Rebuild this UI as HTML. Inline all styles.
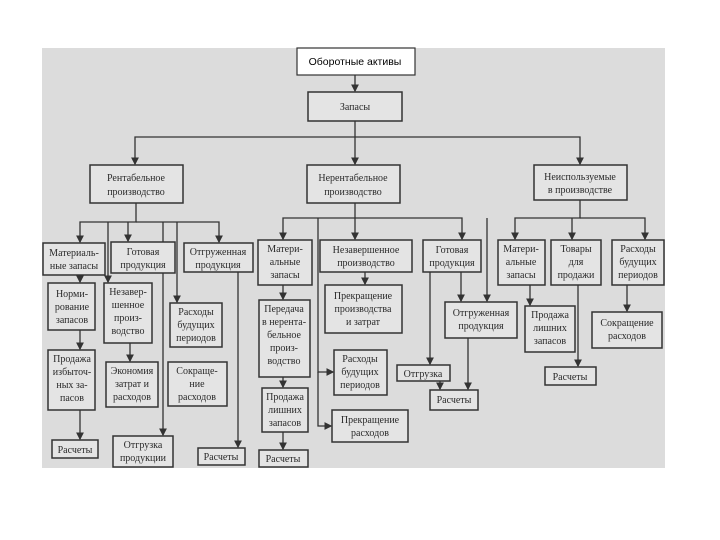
<!DOCTYPE html>
<html><head><meta charset="utf-8"><style>
body{margin:0;background:#fff}
svg{display:block}
text{font-family:"Liberation Serif",serif;font-size:10px;fill:#2a2a2a;text-anchor:middle}
rect.b{fill:#e4e4e4;stroke:#333;stroke-width:1.5}
line,polyline{stroke:#333;stroke-width:1.3;fill:none}
</style></head><body>
<svg width="720" height="540" viewBox="0 0 720 540">
<defs><marker id="a" markerWidth="6" markerHeight="6" refX="5" refY="3" orient="auto"><path d="M0,0L6,3L0,6z" fill="#333"/></marker></defs>
<rect x="42" y="48" width="623" height="420" fill="#dcdcdc"/>
<g marker-end="url(#a)">
<line x1="355" y1="75" x2="355" y2="91"/>
<line x1="355" y1="121" x2="355" y2="164"/>
<polyline points="355,137 135,137 135,164"/>
<polyline points="355,137 580,137 580,164"/>
<polyline points="136,203 136,222 80,222 80,242"/>
<line x1="128" y1="222" x2="128" y2="241"/>
<polyline points="136,222 219,222 219,242"/>
<polyline points="355,203 355,239"/>
<polyline points="355,218 283,218 283,239"/>
<polyline points="355,218 462,218 462,239"/>
<polyline points="580,200 580,218 515,218 515,239"/>
<line x1="572" y1="218" x2="572" y2="239"/>
<polyline points="580,218 645,218 645,239"/>
<line x1="80" y1="275" x2="80" y2="282"/>
<line x1="108" y1="222" x2="108" y2="282"/>
<polyline points="177,222 177,302"/>
<polyline points="163,222 163,435"/>
<line x1="80" y1="330" x2="80" y2="349"/>
<line x1="130" y1="343" x2="130" y2="361"/>
<line x1="80" y1="410" x2="80" y2="439"/>
<line x1="238" y1="272" x2="238" y2="447"/>
<line x1="283" y1="285" x2="283" y2="299"/>
<line x1="283" y1="377" x2="283" y2="387"/>
<line x1="283" y1="432" x2="283" y2="449"/>
<line x1="365" y1="272" x2="365" y2="284"/>
<polyline points="318,218 318,372 333,372"/>
<polyline points="318,372 318,426 331,426"/>
<polyline points="430,272 430,364"/>
<line x1="461" y1="272" x2="461" y2="301"/>
<polyline points="487,218 487,301"/>
<line x1="468" y1="338" x2="468" y2="389"/>
<line x1="440" y1="381" x2="440" y2="389"/>
<line x1="530" y1="285" x2="530" y2="305"/>
<line x1="578" y1="285" x2="578" y2="366"/>
<line x1="627" y1="285" x2="627" y2="311"/>
</g>
<rect x="297" y="48" width="118" height="27" fill="#fff" stroke="#333" stroke-width="1.2"/>
<text x="355" y="65" style="font-family:'Liberation Sans',sans-serif;font-size:10.5px;fill:#000">Оборотные активы</text>
<rect class="b" x="308" y="92" width="94" height="29"/><text x="355" y="110">Запасы</text>
<rect class="b" x="90" y="165" width="93" height="38"/><text x="136" y="181">Рентабельное</text><text x="136" y="195">производство</text>
<rect class="b" x="307" y="165" width="93" height="38"/><text x="353" y="181">Нерентабельное</text><text x="353" y="195">производство</text>
<rect class="b" x="534" y="165" width="93" height="35"/><text x="580" y="180">Неиспользуемые</text><text x="580" y="193">в производстве</text>
<rect class="b" x="43" y="243" width="62" height="32"/><text x="74" y="256">Материаль-</text><text x="74" y="269">ные запасы</text>
<rect class="b" x="111" y="242" width="64" height="31"/><text x="143" y="255">Готовая</text><text x="143" y="268">продукция</text>
<rect class="b" x="184" y="243" width="69" height="29"/><text x="218" y="255">Отгруженная</text><text x="218" y="268">продукция</text>
<rect class="b" x="258" y="240" width="54" height="45"/><text x="285" y="252">Матери-</text><text x="285" y="265">альные</text><text x="285" y="278">запасы</text>
<rect class="b" x="320" y="240" width="92" height="32"/><text x="366" y="253">Незавершенное</text><text x="366" y="266">производство</text>
<rect class="b" x="423" y="240" width="58" height="32"/><text x="452" y="253">Готовая</text><text x="452" y="266">продукция</text>
<rect class="b" x="498" y="240" width="47" height="45"/><text x="521" y="252">Матери-</text><text x="521" y="265">альные</text><text x="521" y="278">запасы</text>
<rect class="b" x="551" y="240" width="50" height="45"/><text x="576" y="252">Товары</text><text x="576" y="265">для</text><text x="576" y="278">продажи</text>
<rect class="b" x="612" y="240" width="52" height="45"/><text x="638" y="252">Расходы</text><text x="638" y="265">будущих</text><text x="638" y="278">периодов</text>
<rect class="b" x="48" y="283" width="47" height="47"/><text x="72" y="297">Норми-</text><text x="72" y="310">рование</text><text x="72" y="323">запасов</text>
<rect class="b" x="104" y="283" width="48" height="60"/><text x="128" y="295">Незавер-</text><text x="128" y="308">шенное</text><text x="128" y="321">произ-</text><text x="128" y="334">водство</text>
<rect class="b" x="170" y="303" width="52" height="44"/><text x="196" y="315">Расходы</text><text x="196" y="328">будущих</text><text x="196" y="341">периодов</text>
<rect class="b" x="48" y="350" width="47" height="60"/><text x="72" y="362">Продажа</text><text x="72" y="375">избыточ-</text><text x="72" y="388">ных за-</text><text x="72" y="401">пасов</text>
<rect class="b" x="106" y="362" width="52" height="45"/><text x="132" y="374">Экономия</text><text x="132" y="387">затрат и</text><text x="132" y="400">расходов</text>
<rect class="b" x="168" y="362" width="59" height="44"/><text x="197" y="374">Сокраще-</text><text x="197" y="387">ние</text><text x="197" y="400">расходов</text>
<rect class="b" x="52" y="440" width="46" height="18"/><text x="75" y="453">Расчеты</text>
<rect class="b" x="113" y="436" width="60" height="31"/><text x="143" y="448">Отгрузка</text><text x="143" y="461">продукции</text>
<rect class="b" x="198" y="448" width="47" height="17"/><text x="221" y="460">Расчеты</text>
<rect class="b" x="259" y="300" width="51" height="77"/><text x="284" y="312">Передача</text><text x="284" y="325">в нерента-</text><text x="284" y="338">бельное</text><text x="284" y="351">произ-</text><text x="284" y="364">водство</text>
<rect class="b" x="262" y="388" width="46" height="44"/><text x="285" y="400">Продажа</text><text x="285" y="413">лишних</text><text x="285" y="426">запасов</text>
<rect class="b" x="259" y="450" width="49" height="17"/><text x="283" y="462">Расчеты</text>
<rect class="b" x="325" y="285" width="77" height="48"/><text x="363" y="299">Прекращение</text><text x="363" y="312">производства</text><text x="363" y="325">и затрат</text>
<rect class="b" x="334" y="350" width="53" height="45"/><text x="360" y="362">Расходы</text><text x="360" y="375">будущих</text><text x="360" y="388">периодов</text>
<rect class="b" x="332" y="410" width="76" height="32"/><text x="370" y="423">Прекращение</text><text x="370" y="436">расходов</text>
<rect class="b" x="445" y="302" width="72" height="36"/><text x="481" y="316">Отгруженная</text><text x="481" y="329">продукция</text>
<rect class="b" x="397" y="365" width="53" height="16"/><text x="423" y="377">Отгрузка</text>
<rect class="b" x="430" y="390" width="48" height="20"/><text x="454" y="403">Расчеты</text>
<rect class="b" x="525" y="306" width="50" height="46"/><text x="550" y="318">Продажа</text><text x="550" y="331">лишних</text><text x="550" y="344">запасов</text>
<rect class="b" x="545" y="367" width="51" height="18"/><text x="570" y="380">Расчеты</text>
<rect class="b" x="592" y="312" width="70" height="36"/><text x="627" y="326">Сокращение</text><text x="627" y="339">расходов</text>
</svg>
</body></html>
